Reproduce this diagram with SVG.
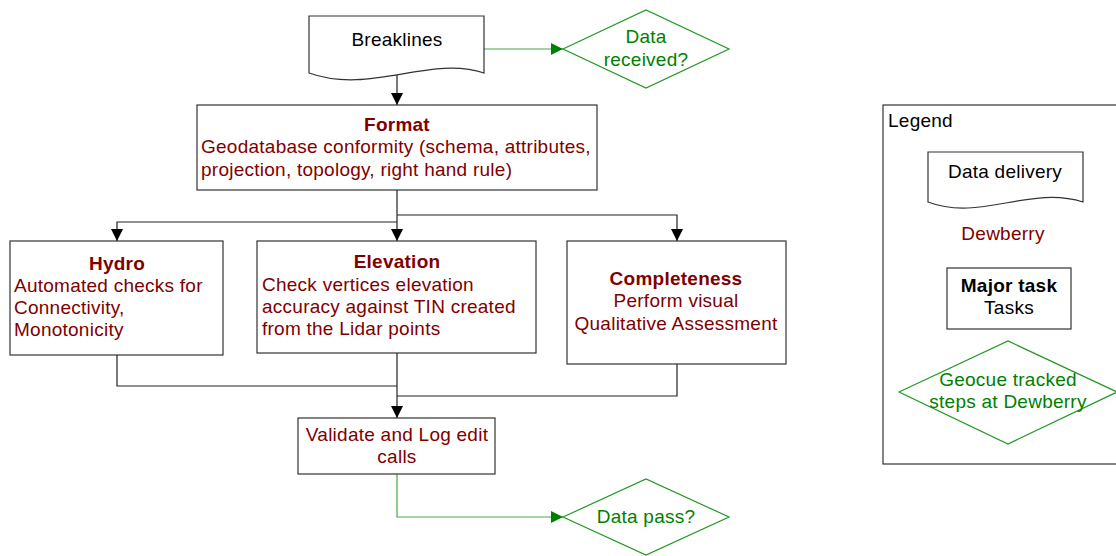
<svg xmlns="http://www.w3.org/2000/svg" width="1116" height="556" viewBox="0 0 1116 556">
<defs>
<style>
text{font-family:"Liberation Sans",Arial,sans-serif;font-size:19px;letter-spacing:0.25px}
.r{fill:#800000}
.g{fill:#008000}
.k{fill:#000}
.b{font-weight:bold}
.c{text-anchor:middle}
.box{fill:#fff;stroke:#333;stroke-width:1.2}
.dia{fill:#fff;stroke:#229922;stroke-width:1.2}
.ln{fill:none;stroke:#222;stroke-width:1.2}
.gl{fill:none;stroke:#44aa44;stroke-width:1.2}
</style>
<marker id="ak" viewBox="0 0 10 10" refX="10" refY="5" markerWidth="12" markerHeight="12" markerUnits="userSpaceOnUse" orient="auto"><path d="M0,0L10,5L0,10Z" fill="#000"/></marker>
<marker id="ag" viewBox="0 0 10 10" refX="10" refY="5" markerWidth="12" markerHeight="12" markerUnits="userSpaceOnUse" orient="auto"><path d="M0,0L10,5L0,10Z" fill="#008000"/></marker>
</defs>
<rect width="1116" height="556" fill="#fff"/>
<g id="connectors">
<path class="gl" d="M484,49H563" marker-end="url(#ag)"/>
<path class="ln" d="M397,75V105" marker-end="url(#ak)"/>
<path class="ln" d="M397,190V241" marker-end="url(#ak)"/>
<path class="ln" d="M397,222H117V241" marker-end="url(#ak)"/>
<path class="ln" d="M397,215H677V241" marker-end="url(#ak)"/>
<path class="ln" d="M117,355V386H397"/>
<path class="ln" d="M677,364V396H397"/>
<path class="ln" d="M397,353V418" marker-end="url(#ak)"/>
<path class="gl" d="M397,474V517H563" marker-end="url(#ag)"/>
</g>
<g id="breaklines">
<path class="box" d="M309,16H484V73C430,55 370,95 309,73Z"/>
<text class="k c" x="397" y="46">Breaklines</text>
</g>
<g id="data-received">
<path class="dia" d="M563,49L646,10L729,49L646,88Z"/>
<text class="g c" x="646" y="43">Data</text>
<text class="g c" x="646" y="66">received?</text>
</g>
<g id="format">
<rect class="box" x="197" y="105" width="400" height="85"/>
<text class="r b c" x="397" y="131">Format</text>
<text class="r" x="201" y="153">Geodatabase conformity (schema, attributes,</text>
<text class="r" x="201" y="176">projection, topology, right hand rule)</text>
</g>
<g id="hydro">
<rect class="box" x="10" y="241" width="213" height="114"/>
<text class="r b c" x="117" y="270">Hydro</text>
<text class="r" x="14" y="292">Automated checks for</text>
<text class="r" x="14" y="314">Connectivity,</text>
<text class="r" x="14" y="336">Monotonicity</text>
</g>
<g id="elevation">
<rect class="box" x="257" y="241" width="279" height="112"/>
<text class="r b c" x="397" y="268">Elevation</text>
<text class="r" x="262" y="291">Check vertices elevation</text>
<text class="r" x="262" y="313">accuracy against TIN created</text>
<text class="r" x="262" y="335">from the Lidar points</text>
</g>
<g id="completeness">
<rect class="box" x="567" y="241" width="219" height="123"/>
<text class="r b c" x="676" y="285">Completeness</text>
<text class="r c" x="676" y="307">Perform visual</text>
<text class="r c" x="676" y="330">Qualitative Assessment</text>
</g>
<g id="validate">
<rect class="box" x="298" y="418" width="197" height="56"/>
<text class="r c" x="397" y="441">Validate and Log edit</text>
<text class="r c" x="397" y="463">calls</text>
</g>
<g id="data-pass">
<path class="dia" d="M563,517L646,479L729,517L646,555Z"/>
<text class="g c" x="646" y="523">Data pass?</text>
</g>
<g id="legend">
<rect class="box" x="883" y="105" width="240" height="359"/>
<text class="k" x="888" y="127">Legend</text>
<path class="box" d="M928,152H1083V202C1030,185 980,222 928,202Z"/>
<text class="k c" x="1005" y="178">Data delivery</text>
<text class="r c" x="1003" y="240">Dewberry</text>
<rect class="box" x="947" y="268" width="124" height="61"/>
<text class="k b c" x="1009" y="292">Major task</text>
<text class="k c" x="1009" y="314">Tasks</text>
<path class="dia" d="M899,392L1008,341L1117,392L1008,444Z"/>
<text class="g c" x="1008" y="386">Geocue tracked</text>
<text class="g c" x="1008" y="408">steps at Dewberry</text>
</g>
</svg>
